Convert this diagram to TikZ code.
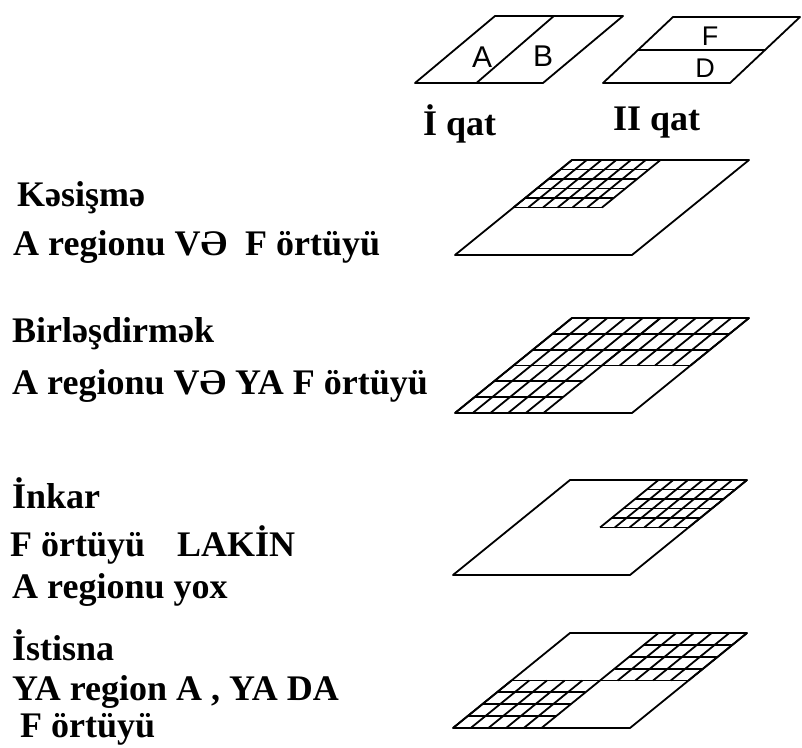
\documentclass[tikz,border=0pt]{standalone}
\usepackage{fontspec}
\setmainfont{Liberation Serif}
\setsansfont{Liberation Sans}
\usepackage{tikz}

% hatched quarter of a layer: start (u,v), columns, rows
\newcommand{\patch}[4]{%
  \foreach \k in {0,...,#3} \draw[gridline] ({#1+\k*0.5/#3},#2) -- ++(0,0.5);
  \foreach \k in {0,...,#4} \draw[gridline] (#1,{#2+\k*0.5/#4}) -- ++(0.5,0);
}

\begin{document}
\begin{tikzpicture}[
    x=1pt, y=-1pt,
    edge/.style={line width=1.8pt, line join=round},
    gridline/.style={line width=1.8pt},
    layer/.style={shift={#1}, x={(177pt,0pt)}, y={(117pt,95pt)}},
    lbl/.style={anchor=base west, inner sep=0pt, font=\bfseries\fontsize{36}{40}\selectfont},
    letter/.style={inner sep=0pt, font=\sffamily\fontsize{30}{32}\selectfont}
]
\useasboundingbox (0,0) rectangle (802,747);

% the two source layers
\begin{scope}[shift={(415,83)}, x={(128pt,0pt)}, y={(80pt,67pt)}]
  \draw[edge] (0,0) -- (1,0) -- (1,1) -- (0,1) -- cycle;
  \draw[edge] (0.48,0) -- (0.46,1);
\end{scope}
\node[letter] (a) at (482,57) {A};
\node[letter] (b) at (543,56) {B};
\begin{scope}[shift={(603,83)}, x={(127pt,0pt)}, y={(70pt,66pt)}]
  \draw[edge] (0,0) -- (1,0) -- (1,1) -- (0,1) -- cycle;
  \draw[edge] (0,0.5) -- (1,0.5);
\end{scope}
\node[letter, font=\sffamily\fontsize{27}{29}\selectfont] (f) at (710,36) {F};
\node[letter, font=\sffamily\fontsize{27}{29}\selectfont] (d) at (705,68) {D};
\node[lbl] (qat1) at (423,135) {İ qat};
\node[lbl] (qat2) at (613,130) {II qat};

% intersection
\node[lbl] (kes) at (17,206) {Kəsişmə};
\node[lbl] (kes2) at (13,255) {A regionu VƏ \ F örtüyü};
\begin{scope}[layer={(455,255)}]
  \patch{0}{0.5}{6}{5}
  \draw[edge] (0,0) -- (1,0) -- (1,1) -- (0,1) -- cycle;
\end{scope}

% union
\node[lbl] (bir) at (12,342) {Birləşdirmək};
\node[lbl] (bir2) at (12,394) {A regionu VƏ YA F örtüyü};
\begin{scope}[layer={(455,413)}]
  \patch{0}{0.5}{5}{3}
  \patch{0.5}{0.5}{5}{3}
  \patch{0}{0}{5}{3}
  \draw[edge] (0,0) -- (1,0) -- (1,1) -- (0,1) -- cycle;
\end{scope}

% negation
\node[lbl] (ink) at (12,508) {İnkar};
\node[lbl] (ink2) at (10,556) {F örtüyü\hspace{32pt}LAKİN};
\node[lbl] (ink3) at (12,598) {A regionu yox};
\begin{scope}[layer={(453,575)}]
  \patch{0.5}{0.5}{6}{5}
  \draw[edge] (0,0) -- (1,0) -- (1,1) -- (0,1) -- cycle;
\end{scope}

% exclusion
\node[lbl] (ist) at (12,660) {İstisna};
\node[lbl] (ist2) at (12,700) {YA region A , YA DA};
\node[lbl] (ist3) at (20,737) {F örtüyü};
\begin{scope}[layer={(453,728)}]
  \patch{0.5}{0.5}{5}{4}
  \patch{0}{0}{5}{4}
  \draw[edge] (0,0) -- (1,0) -- (1,1) -- (0,1) -- cycle;
\end{scope}
\end{tikzpicture}
\end{document}
